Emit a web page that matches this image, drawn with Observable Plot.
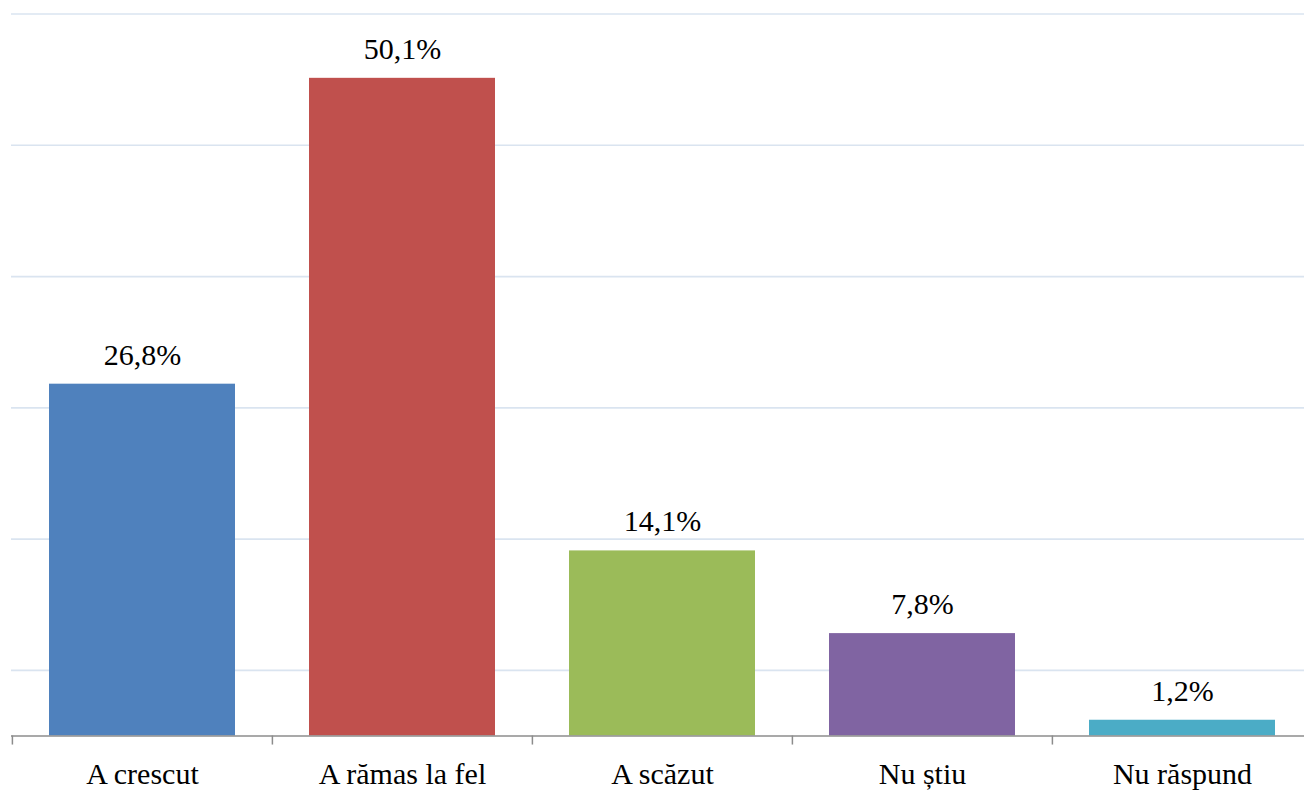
<!DOCTYPE html>
<html>
<head>
<meta charset="utf-8">
<script src="https://cdn.jsdelivr.net/npm/d3@7"></script>
<script src="https://cdn.jsdelivr.net/npm/@observablehq/plot@0.6"></script>
<style>
  html, body { margin: 0; padding: 0; background: #ffffff; overflow: hidden; }
  #chart svg { display: block; }
</style>
</head>
<body>
<div id="chart"></div>
<script>
const categories = ["A crescut", "A rămas la fel", "A scăzut", "Nu știu", "Nu răspund"];
const values = [26.8, 50.1, 14.1, 7.8, 1.2];
const colors = ["#4f81bd", "#c0504d", "#9bbb59", "#8064a2", "#4bacc6"];
const gridValues = [5, 15, 25, 35, 45, 55];

const data = categories.map((c, i) => ({category: c, value: values[i], color: colors[i]}));
const fmt = v => v.toFixed(1).replace(".", ",") + "%";

const W = 1304, H = 794;
const xStart = 11, xEnd = 1312;
const step = (xEnd - xStart) / categories.length;
const font = "Liberation Serif, Tinos, Times New Roman, DejaVu Serif, serif";

const chart = Plot.plot({
  width: W,
  height: H,
  marginLeft: xStart,
  marginRight: 0,
  marginTop: 13,
  marginBottom: 50,
  style: {background: "#ffffff", overflow: "visible"},
  x: {domain: categories, range: [xStart, xEnd], paddingInner: 0.285, paddingOuter: 0.1425, axis: null},
  y: {domain: [0, 55], range: [735.5, 13.5], axis: null},
  marks: [
    Plot.ruleY(gridValues, {y: d => d, stroke: "#dae4f0", strokeWidth: 1.7}),
    Plot.barY(data, {x: "category", y: "value", fill: "color"}),
    Plot.ruleY([0], {stroke: "#8c8c8c", strokeWidth: 1.5}),
    Plot.ruleX(categories, {x: d => d, y1: 0, y2: -0.69, dx: -step / 2, stroke: "#8c8c8c", strokeWidth: 1.5}),
    Plot.text(data, {x: "category", y: "value", text: d => fmt(d.value), lineAnchor: "bottom", dy: -19.5, fontSize: 30, fontFamily: font, fill: "#000000"}),
    Plot.text(data, {x: "category", y: 0, text: "category", lineAnchor: "bottom", dy: 47.8, fontSize: 30, fontFamily: font, fill: "#000000"})
  ]
});
document.getElementById("chart").appendChild(chart);
</script>
</body>
</html>
